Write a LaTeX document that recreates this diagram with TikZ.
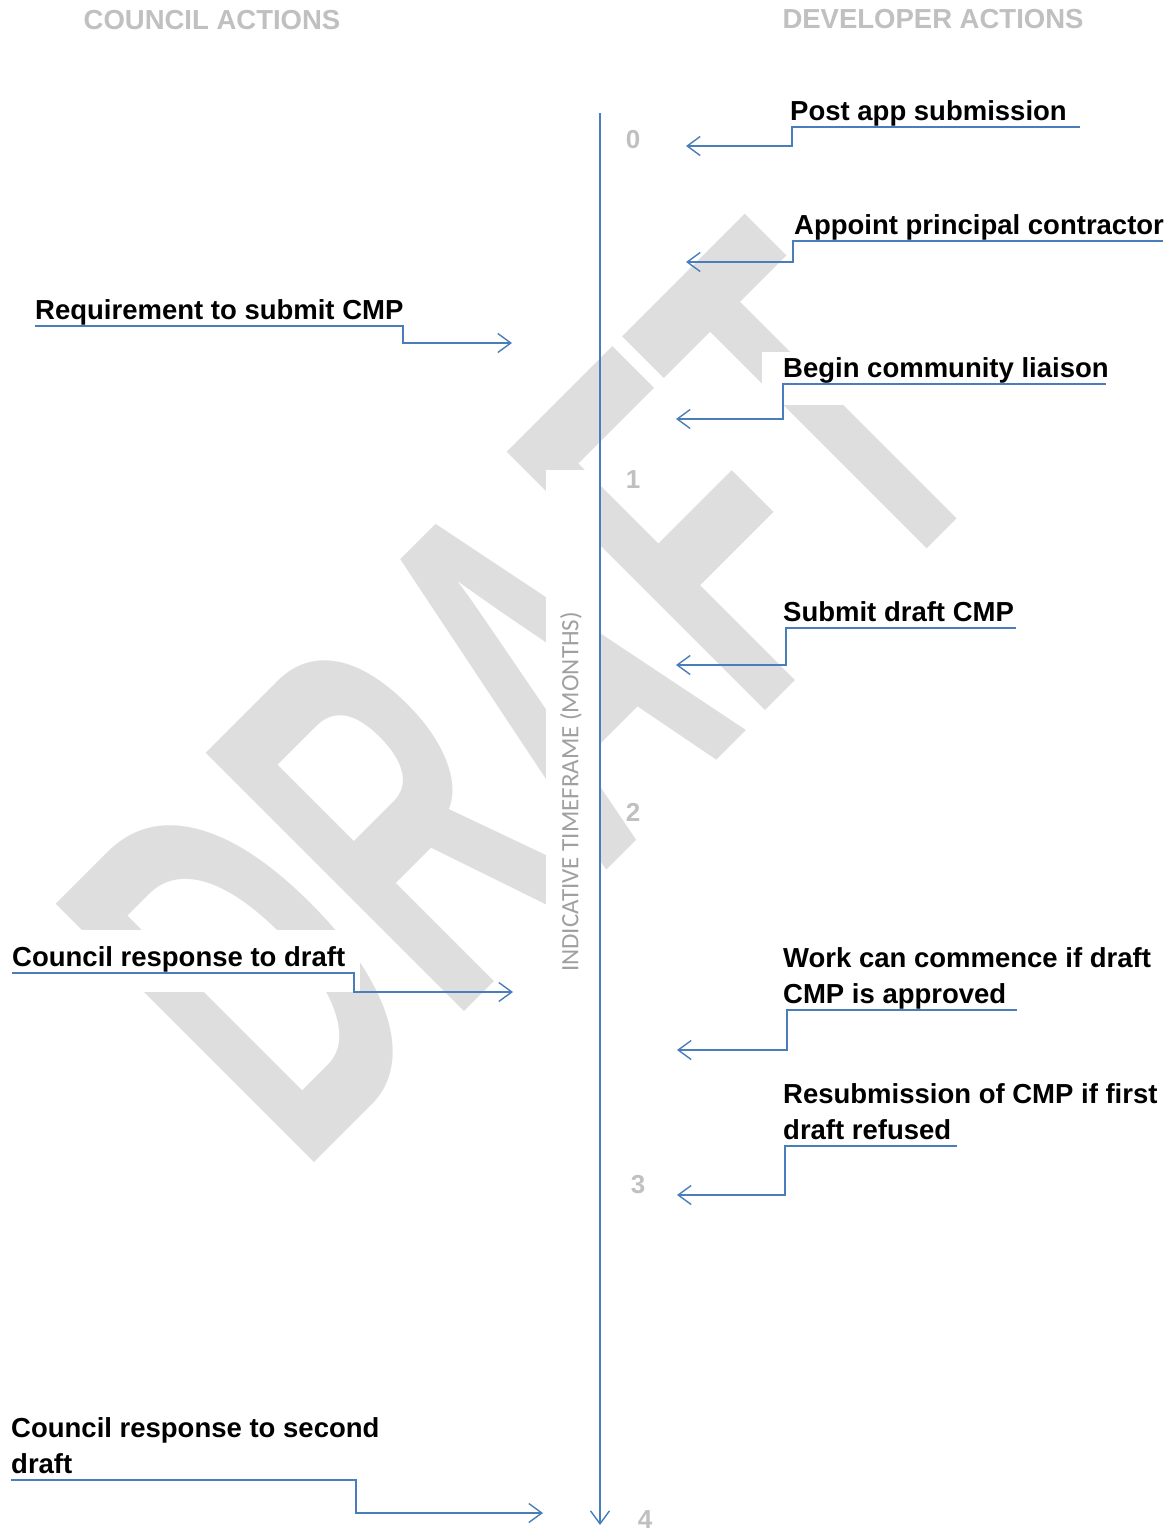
\documentclass[tikz,border=0pt]{standalone}
\usepackage{fontspec}
\setmainfont{Liberation Sans}
\newfontfamily\calfont{Carlito}
\usetikzlibrary{arrows.meta}
\definecolor{linkblue}{RGB}{74,126,187}
\definecolor{headgray}{RGB}{192,192,192}
\definecolor{axisgray}{RGB}{160,160,160}
\definecolor{markgray}{RGB}{222,222,222}

\begin{document}
\begin{tikzpicture}[x=1pt,y=-1pt,
    lbl/.style={anchor=south west,inner sep=0pt,text depth=6pt,align=left,font=\fontsize{27.5}{36}\selectfont\bfseries},
    head/.style={text=headgray,font=\fontsize{27.5}{33}\selectfont\bfseries},
    tick/.style={text=headgray,font=\fontsize{26}{30}\selectfont\bfseries},
    link/.style={linkblue,line width=1.4pt,-{Straight Barb[length=13pt,width=19pt]}}]
    \useasboundingbox[fill=white] (0,0) rectangle (1175,1532);
    % watermark, partly hidden by the text boxes
    \node[rotate=45,text=markgray,font=\fontsize{531}{531}\selectfont\bfseries] (mark) at (524,694) {\scalebox{0.555}[1]{DRAFT}};
    \fill[white] (546,470) rectangle (599,1010);
    \fill[white] (0,930) rectangle (360,992);
    \fill[white] (762,352) rectangle (1110,405);
    % headings
    \node[head] (council) at (212,20) {COUNCIL ACTIONS};
    \node[head] (developer) at (933,19) {DEVELOPER ACTIONS};
    % time axis
    \coordinate (top) at (600,113);
    \coordinate (bottom) at (600,1525);
    \draw[link] (top) -- (bottom);
    \node[rotate=90,text=axisgray,font=\calfont\fontsize{25}{30}\selectfont] (axislbl) at (571,792) {INDICATIVE TIMEFRAME (MONTHS)};
    \node[tick] (m0) at (633,140) {0};
    \node[tick] (m1) at (633,480) {1};
    \node[tick] (m2) at (633,812) {2};
    \node[tick] (m3) at (638,1185) {3};
    \node[tick] (m4) at (645,1520) {4};
    % developer actions
    \node[lbl] (post) at (790,127) {Post app submission};
    \node[lbl] (appoint) at (794,241) {Appoint principal contractor};
    \node[lbl] (liaison) at (783,384) {Begin community liaison};
    \node[lbl] (draft) at (783,628) {Submit draft CMP};
    \node[lbl] (work) at (783,1010) {Work can commence if draft\\CMP is approved};
    \node[lbl] (resub) at (783,1146) {Resubmission of CMP if first\\draft refused};
    \coordinate (tpost) at (686,146);
    \coordinate (tappoint) at (686,262);
    \coordinate (tliaison) at (676,419);
    \coordinate (tdraft) at (676,665);
    \coordinate (twork) at (677,1050);
    \coordinate (tresub) at (677,1195);
    \draw[link] ([xshift=290pt]post.south west) -- ([xshift=2pt]post.south west) |- (tpost);
    \draw[link] ([xshift=369pt]appoint.south west) -- ([xshift=-1pt]appoint.south west) |- (tappoint);
    \draw[link] ([xshift=323pt]liaison.south west) -- (liaison.south west) |- (tliaison);
    \draw[link] ([xshift=233pt]draft.south west) -- ([xshift=3pt]draft.south west) |- (tdraft);
    \draw[link] ([xshift=234pt]work.south west) -- ([xshift=4pt]work.south west) |- (twork);
    \draw[link] ([xshift=174pt]resub.south west) -- ([xshift=2pt]resub.south west) |- (tresub);
    % council actions
    \node[lbl] (req) at (35,326) {Requirement to submit CMP};
    \node[lbl] (resp) at (12,973) {Council response to draft};
    \node[lbl] (resp2) at (11,1480) {Council response to second\\draft};
    \coordinate (treq) at (512,343);
    \coordinate (tresp) at (513,992);
    \coordinate (tresp2) at (543,1513);
    \draw[link] (req.south west) -- ++(368,0) |- (treq);
    \draw[link] (resp.south west) -- ++(342,0) |- (tresp);
    \draw[link] (resp2.south west) -- ++(345,0) |- (tresp2);
\end{tikzpicture}
\end{document}
